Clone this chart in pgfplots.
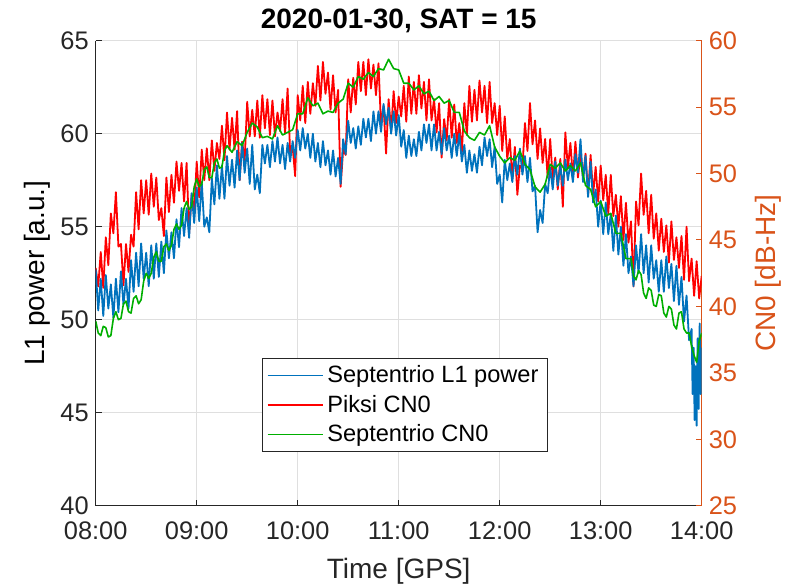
\documentclass[border=0pt]{standalone}
\usepackage{pgfplots}
\pgfplotsset{compat=1.18}
\usepackage{fontspec}
\setmainfont{Liberation Sans}
\definecolor{mblue}{rgb}{0,0.447,0.741}
\definecolor{mred}{rgb}{1,0,0}
\definecolor{mgreen}{RGB}{0,175,0}
\definecolor{morange}{RGB}{217,83,25}
\definecolor{mgray}{rgb}{0.15,0.15,0.15}
\definecolor{mgrid}{RGB}{223,223,223}
\begin{document}
\begin{tikzpicture}
\path[use as bounding box] (-47.85pt,-41.15pt) rectangle (345.15pt,252.85pt);
\pgfplotsset{
  every axis title shift=0pt,
  common/.style={
    scale only axis, width=303pt, height=232.5pt,
    xmin=8, xmax=14,
    /pgf/number format/assume math mode=true,
    tick align=inside, major tick length=3pt,
    ticklabel style={font=\fontsize{12.7}{15}\selectfont},
    label style={font=\fontsize{14}{17}\selectfont},
  },
  hidden/.style={common, axis lines=none, ticks=none},
}
% left axis: frame, grid, labels, legend
\begin{axis}[common,
  axis x line*=bottom, axis y line*=left,
  axis line style={mgray, line width=0.5pt},
  ymin=40, ymax=65, ytick={40,45,...,65},
  xtick={8,9,10,11,12,13,14},
  xticklabels={08:00,09:00,10:00,11:00,12:00,13:00,14:00},
  tick style={mgray, line width=0.5pt},
  ticklabel style={text=mgray},
  xticklabel style={yshift=-4.5pt},
  grid=major, grid style={mgrid, line width=0.5pt},
  xlabel={Time [GPS]}, ylabel={L1 power [a.u.]},
  xlabel style={at={(axis description cs:0.5,-0.1419)}, anchor=center, text=mgray},
  ylabel style={at={(axis description cs:-0.097,0.5)}, anchor=center, text=black},
  title={\textbf{2020-01-30, SAT = 15}},
  title style={at={(axis description cs:0.5,1)}, anchor=base, yshift=6.2pt, font=\fontsize{14}{17}\selectfont},
  legend cell align=left,
  legend image code/.code={\draw[#1] (0pt,0pt) -- (27.5pt,0pt);},
  legend style={at={(axis description cs:0.2739,0.1161)}, anchor=south west,
    draw=mgray, fill=white,
    font=\fontsize{11.8}{14}\selectfont,
    inner xsep=2.5pt, inner ysep=1.5pt, row sep=0.6pt},
]
\addlegendimage{color=mblue, line width=0.6pt}
\addlegendentry{Septentrio L1 power}
\addlegendimage{color=mred, line width=0.6pt}
\addlegendentry{Piksi CN0}
\addlegendimage{color=mgreen, line width=0.6pt}
\addlegendentry{Septentrio CN0}
\end{axis}
% right axis with red series
\begin{axis}[common,
  axis x line=none, axis y line*=right,
  axis line style={morange, line width=0.5pt},
  ymin=25, ymax=60, ytick={25,30,...,60},
  tick style={morange, line width=0.5pt},
  ticklabel style={text=morange},
  ylabel={CN0 [dB-Hz]},
  ylabel style={at={(axis description cs:1.1096,0.5)}, anchor=center, text=morange},
]
\addplot[mred, line width=0.9pt, line join=round] coordinates {
(8.00,42.9)(8.025,41.5)(8.05,44.1)(8.075,41.4)(8.10,45.2)(8.125,43.1)(8.15,47.0)(8.175,45.5)(8.20,48.6)(8.225,44.5)(8.25,44.7)(8.275,41.6)
(8.30,44.7)(8.325,42.6)(8.35,45.4)(8.375,44.5)(8.40,48.6)(8.425,45.8)(8.45,49.5)(8.475,47.0)(8.50,49.5)(8.525,46.9)(8.55,50.0)(8.575,47.5)
(8.60,49.7)(8.625,46.5)(8.65,47.4)(8.675,45.3)(8.70,49.7)(8.725,47.1)(8.75,49.9)(8.775,47.8)(8.80,50.9)(8.825,48.7)(8.85,50.8)(8.875,47.9)
(8.90,50.8)(8.925,45.5)(8.95,48.4)(8.975,47.1)(9.00,50.9)(9.025,48.2)(9.05,51.8)(9.075,49.5)(9.10,51.9)(9.125,49.5)(9.15,52.5)(9.175,50.2)
(9.20,52.3)(9.225,51.1)(9.25,53.6)(9.275,51.0)(9.30,54.6)(9.325,51.8)(9.35,54.2)(9.375,51.8)(9.40,54.7)(9.425,49.5)(9.45,52.4)(9.475,51.0)
(9.50,55.4)(9.525,52.8)(9.55,54.8)(9.575,52.8)(9.60,55.5)(9.625,52.7)(9.65,55.9)(9.675,53.4)(9.70,55.6)(9.725,52.9)(9.75,55.5)(9.775,52.8)
(9.80,54.6)(9.825,53.2)(9.85,55.6)(9.875,53.0)(9.90,56.4)(9.925,51.6)(9.95,52.0)(9.975,49.8)(10.00,55.9)(10.025,54.0)(10.05,56.6)(10.075,53.8)
(10.10,56.9)(10.125,54.5)(10.15,56.8)(10.175,55.1)(10.20,58.1)(10.225,55.5)(10.25,58.4)(10.275,56.0)(10.30,57.6)(10.325,54.8)(10.35,57.4)(10.375,54.6)
(10.40,56.3)(10.425,49.0)(10.45,51.8)(10.475,51.4)(10.50,57.1)(10.525,54.6)(10.55,57.2)(10.575,55.2)(10.60,58.4)(10.625,56.2)(10.65,58.4)(10.675,55.9)
(10.70,58.6)(10.725,56.4)(10.75,58.2)(10.775,55.9)(10.80,58.3)(10.825,53.6)(10.85,55.1)(10.875,51.5)(10.90,55.6)(10.925,53.2)(10.95,56.2)(10.975,53.8)
(11.00,55.8)(11.025,54.3)(11.05,56.6)(11.075,53.9)(11.10,57.3)(11.125,54.5)(11.15,56.9)(11.175,54.5)(11.20,57.4)(11.225,54.9)(11.25,56.9)(11.275,54.0)
(11.30,57.1)(11.325,54.0)(11.35,55.6)(11.375,53.1)(11.40,55.3)(11.425,51.2)(11.45,54.1)(11.475,52.5)(11.50,55.6)(11.525,52.7)(11.55,55.2)(11.575,52.3)
(11.60,53.8)(11.625,51.6)(11.65,55.3)(11.675,52.9)(11.70,56.6)(11.725,53.9)(11.75,56.3)(11.775,54.0)(11.80,57.0)(11.825,54.6)(11.85,56.6)(11.875,53.8)
(11.90,56.9)(11.925,53.8)(11.95,55.3)(11.975,52.9)(12.00,55.1)(12.025,51.7)(12.05,54.3)(12.075,51.1)(12.10,52.6)(12.125,49.6)(12.15,52.0)(12.175,48.4)
(12.20,50.6)(12.225,50.4)(12.25,53.8)(12.275,51.7)(12.30,55.3)(12.325,52.2)(12.35,54.0)(12.375,51.1)(12.40,53.4)(12.425,50.8)(12.45,52.6)(12.475,49.7)
(12.50,52.6)(12.525,49.6)(12.55,51.2)(12.575,48.8)(12.60,51.1)(12.625,47.5)(12.65,53.1)(12.675,50.4)(12.70,52.3)(12.725,49.7)(12.75,52.4)(12.775,49.7)
(12.80,51.5)(12.825,49.7)(12.85,51.5)(12.875,48.4)(12.90,51.4)(12.925,48.4)(12.95,50.5)(12.975,47.9)(13.00,50.6)(13.025,48.0)(13.05,49.9)(13.075,47.0)
(13.10,49.9)(13.125,46.8)(13.15,48.4)(13.175,46.0)(13.20,48.3)(13.225,45.0)(13.25,47.8)(13.275,44.8)(13.30,46.4)(13.325,41.5)(13.35,47.9)(13.375,46.1)
(13.40,50.0)(13.425,46.9)(13.45,48.7)(13.475,45.5)(13.50,48.4)(13.525,45.1)(13.55,47.0)(13.575,44.2)(13.60,46.6)(13.625,44.1)(13.65,46.1)(13.675,43.3)
(13.70,46.4)(13.725,43.5)(13.75,45.2)(13.775,42.9)(13.80,45.3)(13.825,42.0)(13.85,46.0)(13.875,41.9)(13.90,43.6)(13.925,40.8)(13.95,43.4)(13.975,40.6)
(14.00,42.3)
};
\end{axis}
% blue series on the left scale
\begin{axis}[hidden, ymin=40, ymax=65]
\addplot[mblue, line width=0.9pt, line join=round] coordinates {
(8.00,52.7)(8.025,50.5)(8.05,52.2)(8.075,50.2)(8.10,52.4)(8.125,50.6)(8.15,51.9)(8.175,50.1)(8.20,52.2)(8.225,50.4)(8.25,52.6)(8.275,50.8)
(8.30,52.2)(8.325,50.6)(8.35,53.2)(8.375,51.5)(8.40,53.6)(8.425,51.8)(8.45,54.1)(8.475,52.2)(8.50,53.6)(8.525,51.8)(8.55,54.0)(8.575,52.2)
(8.60,54.1)(8.625,52.3)(8.65,54.2)(8.675,52.5)(8.70,54.8)(8.725,53.3)(8.75,54.7)(8.775,53.3)(8.80,55.4)(8.825,53.9)(8.85,56.0)(8.875,54.5)
(8.90,56.0)(8.925,54.4)(8.95,56.8)(8.975,55.2)(9.00,57.1)(9.025,55.3)(9.05,57.4)(9.075,55.0)(9.10,55.5)(9.125,54.7)(9.15,57.6)(9.175,56.2)
(9.20,58.3)(9.225,56.5)(9.25,58.3)(9.275,56.5)(9.30,58.8)(9.325,57.2)(9.35,58.6)(9.375,57.1)(9.40,59.1)(9.425,57.5)(9.45,59.5)(9.475,57.9)
(9.50,59.2)(9.525,57.3)(9.55,59.4)(9.575,57.0)(9.60,57.8)(9.625,56.8)(9.65,59.4)(9.675,58.4)(9.70,59.4)(9.725,58.2)(9.75,59.6)(9.775,58.5)
(9.80,59.8)(9.825,58.4)(9.85,59.4)(9.875,58.1)(9.90,59.5)(9.925,58.5)(9.95,59.6)(9.975,58.7)(10.00,60.2)(10.025,59.1)(10.05,60.3)(10.075,59.2)
(10.10,60.0)(10.125,58.7)(10.15,60.0)(10.175,58.5)(10.20,59.5)(10.225,58.2)(10.25,59.6)(10.275,58.3)(10.30,59.1)(10.325,57.8)(10.35,59.1)(10.375,57.7)
(10.40,58.7)(10.425,57.3)(10.45,59.7)(10.475,58.9)(10.50,60.7)(10.525,59.5)(10.55,60.3)(10.575,59.2)(10.60,60.4)(10.625,59.4)(10.65,60.8)(10.675,59.8)
(10.70,60.8)(10.725,59.6)(10.75,61.2)(10.775,60.0)(10.80,61.2)(10.825,60.1)(10.85,61.6)(10.875,60.5)(10.90,61.4)(10.925,60.0)(10.95,61.2)(10.975,59.9)
(11.00,61.0)(11.025,59.3)(11.05,60.2)(11.075,58.7)(11.10,59.9)(11.125,58.8)(11.15,59.7)(11.175,58.8)(11.20,60.1)(11.225,59.1)(11.25,60.5)(11.275,59.5)
(11.30,60.5)(11.325,59.1)(11.35,60.5)(11.375,59.1)(11.40,60.1)(11.425,58.9)(11.45,60.3)(11.475,59.1)(11.50,59.9)(11.525,58.7)(11.55,60.0)(11.575,58.8)
(11.60,60.0)(11.625,58.5)(11.65,59.4)(11.675,57.9)(11.70,59.1)(11.725,58.0)(11.75,58.9)(11.775,57.9)(11.80,59.3)(11.825,58.3)(11.85,59.8)(11.875,58.8)
(11.90,59.7)(11.925,58.2)(11.95,59.3)(11.975,57.3)(12.00,57.8)(12.025,56.3)(12.05,58.6)(12.075,57.5)(12.10,58.4)(12.125,57.4)(12.15,58.8)(12.175,57.8)
(12.20,59.2)(12.225,57.8)(12.25,58.8)(12.275,57.4)(12.30,58.7)(12.325,56.9)(12.35,57.2)(12.375,54.7)(12.40,55.9)(12.425,55.2)(12.45,57.3)(12.475,56.8)
(12.50,58.2)(12.525,57.0)(12.55,58.5)(12.575,57.2)(12.60,58.3)(12.625,57.2)(12.65,58.6)(12.675,57.5)(12.70,58.4)(12.725,57.4)(12.75,58.9)(12.775,57.9)
(12.80,59.7)(12.825,57.4)(12.85,58.8)(12.875,56.6)(12.90,58.5)(12.925,56.3)(12.95,57.0)(12.975,55.0)(13.00,56.4)(13.025,54.6)(13.05,56.3)(13.075,54.6)
(13.10,55.7)(13.125,53.7)(13.15,55.6)(13.175,53.5)(13.20,55.0)(13.225,52.9)(13.25,54.6)(13.275,52.5)(13.30,53.4)(13.325,51.8)(13.35,54.0)(13.375,52.5)
(13.40,54.6)(13.425,52.5)(13.45,54.0)(13.475,52.0)(13.50,54.0)(13.525,52.2)(13.55,53.2)(13.575,51.5)(13.60,53.2)(13.625,51.5)(13.65,53.4)(13.675,51.7)
(13.70,53.0)(13.725,51.0)(13.75,52.9)(13.775,50.8)(13.80,52.3)(13.825,49.9)(13.85,51.3)(13.875,48.9)(13.90,49.5)(13.91,46.0)(13.92,48.5)(13.93,44.6)
(13.94,47.5)(13.95,44.3)(13.96,49.0)(13.97,45.2)(13.98,49.8)(13.99,46.0)(14.00,48.5)
};
\end{axis}
% green series on the right scale
\begin{axis}[hidden, ymin=25, ymax=60]
\addplot[mgreen, line width=0.8pt, line join=round] coordinates {
(8.00,38.9)(8.025,38.0)(8.05,37.8)(8.075,38.5)(8.10,38.4)(8.125,37.7)(8.15,37.8)(8.175,39.1)(8.20,39.6)(8.225,39.0)(8.25,39.1)(8.275,40.2)
(8.30,40.4)(8.325,39.6)(8.35,39.5)(8.375,40.6)(8.40,40.8)(8.425,40.2)(8.45,40.5)(8.475,41.9)(8.50,42.5)(8.525,42.1)(8.55,42.5)(8.575,43.7)
(8.60,44.1)(8.625,43.4)(8.65,43.4)(8.675,44.5)(8.70,44.7)(8.725,44.2)(8.75,44.6)(8.775,45.8)(8.80,46.2)(8.825,45.8)(8.85,46.1)(8.875,47.4)
(8.90,47.9)(8.925,47.3)(8.95,47.5)(8.975,49.0)(9.00,49.6)(9.025,49.0)(9.05,49.2)(9.075,50.3)(9.10,50.5)(9.125,49.7)(9.15,49.7)(9.175,50.8)
(9.20,51.1)(9.225,50.4)(9.25,50.5)(9.275,51.7)(9.30,52.1)(9.35,51.6)(9.40,52.4)(9.45,52.1)(9.50,53.1)(9.55,53.8)
(9.60,53.5)(9.65,52.7)(9.70,52.8)(9.75,52.6)(9.80,53.6)(9.85,52.9)(9.90,53.1)(9.95,53.3)
(10.00,54.5)(10.05,54.5)(10.10,55.7)(10.15,55.1)(10.20,55.3)(10.25,54.5)(10.30,54.7)(10.35,54.6)
(10.40,55.3)(10.45,55.6)(10.50,56.8)(10.55,56.5)(10.60,57.3)(10.65,57.1)(10.70,57.6)(10.75,57.3)
(10.80,57.9)(10.85,57.8)(10.90,58.6)(10.95,57.9)(11.00,57.8)(11.05,56.8)(11.10,56.8)(11.15,56.3)
(11.20,56.6)(11.25,56.0)(11.30,56.2)(11.35,55.5)(11.40,55.8)(11.45,55.3)(11.50,55.5)(11.55,54.6)
(11.60,54.6)(11.65,53.2)(11.70,52.7)(11.75,52.5)(11.80,53.1)(11.85,52.9)(11.90,53.6)(11.95,52.0)
(12.00,51.3)(12.05,50.8)(12.10,51.2)(12.15,51.0)(12.20,51.7)(12.25,50.7)(12.30,50.3)(12.35,49.0)
(12.40,48.6)(12.45,49.2)(12.50,50.7)(12.55,50.4)(12.60,50.8)(12.65,50.2)(12.70,50.6)(12.75,50.2)
(12.80,50.8)(12.85,49.1)(12.90,48.8)(12.95,47.5)(13.00,47.9)(13.05,46.8)(13.10,47.0)(13.15,45.5)
(13.20,45.5)(13.25,43.6)(13.30,43.6)(13.325,42.3)(13.35,42.0)(13.375,42.7)(13.40,42.4)(13.425,41.0)(13.45,40.6)(13.475,41.4)
(13.50,41.2)(13.525,40.1)(13.55,40.0)(13.575,40.9)(13.60,40.8)(13.625,39.5)(13.65,39.2)(13.675,40.0)(13.70,39.8)(13.725,38.6)
(13.75,38.3)(13.775,39.5)(13.80,39.6)(13.825,38.3)(13.85,38.0)(13.875,38.0)(13.90,37.0)(13.925,36.3)(13.95,35.8)(13.975,37.4)(14.00,38.0)
};
\end{axis}
\end{tikzpicture}
\end{document}
